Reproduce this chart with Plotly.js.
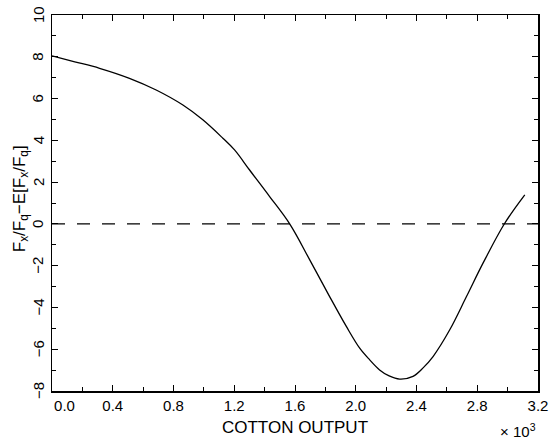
<!DOCTYPE html>
<html>
<head>
<meta charset="utf-8">
<script src="https://cdn.plot.ly/plotly-3.0.1.min.js"></script>
<style>body{margin:0;padding:0;background:#fff;}#chart{width:557px;height:440px;}</style>
</head>
<body>
<div id="chart"></div>
<script>
// Cotton output (x 10^3)
const cottonOutput = [0, 0.15, 0.313, 0.51, 0.686, 0.862, 0.993, 1.125, 1.202, 1.301, 1.433, 1.565, 1.697, 1.828, 1.938, 2.026, 2.092, 2.157, 2.22, 2.289, 2.377, 2.445, 2.509, 2.619, 2.729, 2.838, 2.981, 3.113];
const deviation = [8.04, 7.76, 7.45, 6.97, 6.41, 5.69, 4.98, 4.10, 3.54, 2.58, 1.31, 0.0, -1.72, -3.48, -4.91, -5.95, -6.51, -6.99, -7.28, -7.43, -7.30, -6.88, -6.35, -5.07, -3.48, -1.88, 0.03, 1.39];
const zeroLineX = [0, 3.2];
const zeroLineY = [0, 0];
const xTickVals = [0, 0.4, 0.8, 1.2, 1.6, 2.0, 2.4, 2.8, 3.2];
const xTickText = ["\u00a0\u00a0\u00a0\u00a0\u00a0\u00a00.0", "0.4", "0.8", "1.2", "1.6", "2.0", "2.4", "2.8", "3.2"];
const yTickVals = [-8, -6, -4, -2, 0, 2, 4, 6, 8, 10];
const yTickText = ["\u22128", "\u22126", "\u22124", "\u22122", "0", "2", "4", "6", "8", "10"];
const yTitle = 'F<sub>x</sub>/F<sub>q</sub>\u2212E[F<sub>x</sub>/F<sub>q</sub>]';
const xTitle = 'COTTON OUTPUT';
const xUnit = '\u00d7 10<sup>3</sup>';

const font = "Liberation Sans, Arial, Helvetica, sans-serif";
const traces = [
  {x: zeroLineX, y: zeroLineY, mode: 'lines', line: {color: '#000', width: 1.3, dash: '13px,12px'}, hoverinfo: 'skip'},
  {x: cottonOutput, y: deviation, mode: 'lines', line: {color: '#000', width: 1.3, shape: 'spline', smoothing: 1}}
];
const axisCommon = {
  showgrid: false, zeroline: false, showline: true, linecolor: '#000', linewidth: 1.5,
  mirror: 'ticks', ticks: 'inside', ticklen: 6, tickwidth: 1, tickcolor: '#000',
  tickfont: {family: font, size: 15, color: '#000'}
};
// rotated y tick labels drawn as annotations from the tick arrays
const yTickAnnotations = yTickVals.map((v, i) => ({
  xref: 'paper', yref: 'y', x: 0, y: v, xshift: -14, xanchor: 'center', yanchor: 'middle',
  textangle: -90, text: yTickText[i], showarrow: false,
  font: {family: font, size: 15, color: '#000'}
}));
const layout = {
  width: 557, height: 440,
  margin: {l: 52, r: 19, t: 15, b: 49},
  paper_bgcolor: '#fff', plot_bgcolor: '#fff',
  showlegend: false,
  xaxis: Object.assign({}, axisCommon, {
    range: [0, 3.2], tickmode: 'array', tickvals: xTickVals, ticktext: xTickText,
    minor: {dtick: 0.2, ticks: 'inside', ticklen: 4, tickcolor: '#000'},
    title: {text: xTitle, font: {family: font, size: 17, color: '#000'}, standoff: 8}
  }),
  yaxis: Object.assign({}, axisCommon, {
    range: [-8, 10], tickmode: 'array', tickvals: yTickVals, showticklabels: false,
    minor: {dtick: 1, ticks: 'inside', ticklen: 4, tickcolor: '#000'}
  }),
  annotations: yTickAnnotations.concat([
    {xref: 'paper', yref: 'paper', x: 0, y: 0.51, xshift: -31, xanchor: 'center', yanchor: 'middle',
     textangle: -90, text: yTitle, showarrow: false, font: {family: font, size: 17, color: '#000'}},
    {xref: 'paper', yref: 'paper', x: 1, y: 0, xanchor: 'right', yanchor: 'top', yshift: -28,
     text: xUnit, showarrow: false, font: {family: font, size: 15, color: '#000'}}
  ])
};
Plotly.newPlot('chart', traces, layout, {displayModeBar: false, staticPlot: true});
</script>
</body>
</html>
